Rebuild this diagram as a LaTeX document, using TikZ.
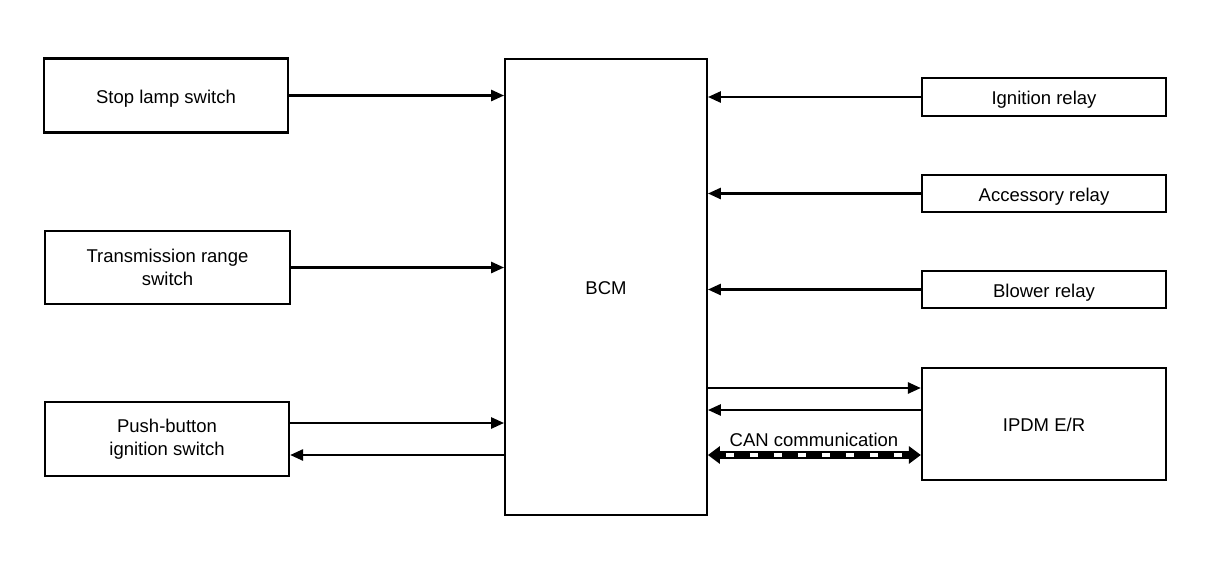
\documentclass[tikz,border=0pt]{standalone}
\usepackage{fontspec}
\setmainfont{Liberation Sans}
\usetikzlibrary{arrows.meta}
\begin{document}
\begin{tikzpicture}[x=1pt,y=-1pt,
  box/.style={draw,line width=2.2pt,inner sep=0pt,align=center,font=\fontsize{18.5}{23}\selectfont},
  oneline/.style={text height=17pt,text depth=2pt},
  conn/.style={line width=2.6pt,-{Triangle[length=13pt,width=11pt]}},
  lbl/.style={font=\fontsize{18.5}{20}\selectfont}]
\useasboundingbox (0,0) rectangle (1216,582);
\node[box,oneline,minimum width=244pt,minimum height=74pt] (sls) at (166,95.5) {Stop lamp switch};
\node[box,minimum width=245pt,minimum height=73pt] (trs) at (167.5,267.5) {Transmission range\\switch};
\node[box,minimum width=244pt,minimum height=74pt] (pb) at (167,439) {Push-button\\ignition switch};
\node[box,oneline,line width=1.8pt,minimum width=202pt,minimum height=456pt] (bcm) at (606,287) {BCM};
\node[box,oneline,minimum width=244pt,minimum height=38pt] (ign) at (1044,97) {Ignition relay};
\node[box,oneline,minimum width=244pt,minimum height=37pt] (acc) at (1044,193.5) {Accessory relay};
\node[box,oneline,minimum width=244pt,minimum height=37pt] (blw) at (1044,289.5) {Blower relay};
\node[box,oneline,minimum width=244pt,minimum height=112pt] (ipdm) at (1044,424) {IPDM E/R};

\draw[conn] (sls.east) -- (bcm.west |- sls.east);
\draw[conn] (trs.east) -- (bcm.west |- trs.east);
\draw[conn] (pb.east |- 0,423) -- (bcm.west |- 0,423);
\draw[conn] (bcm.west |- 0,455) -- (pb.east |- 0,455);
\draw[conn] (ign.west) -- (bcm.east |- ign.west);
\draw[conn] (acc.west) -- (bcm.east |- acc.west);
\draw[conn] (blw.west) -- (bcm.east |- blw.west);
\draw[conn] (bcm.east |- 0,388) -- (ipdm.west |- 0,388);
\draw[conn] (ipdm.west |- 0,410) -- (bcm.east |- 0,410);
\coordinate (c1) at (bcm.east |- 0,455);
\coordinate (c2) at (ipdm.west |- 0,455);
\draw[line width=8pt,{Triangle[length=12pt,width=17pt]}-{Triangle[length=12pt,width=17pt]}] (c1) -- (c2);
\draw[white,line width=3.5pt,dash pattern=on 8pt off 16pt,dash phase=-6pt] ([xshift=12pt]c1) -- ([xshift=-12pt]c2);
\node[lbl] (can) at (814,440) {CAN communication};
\end{tikzpicture}
\end{document}
